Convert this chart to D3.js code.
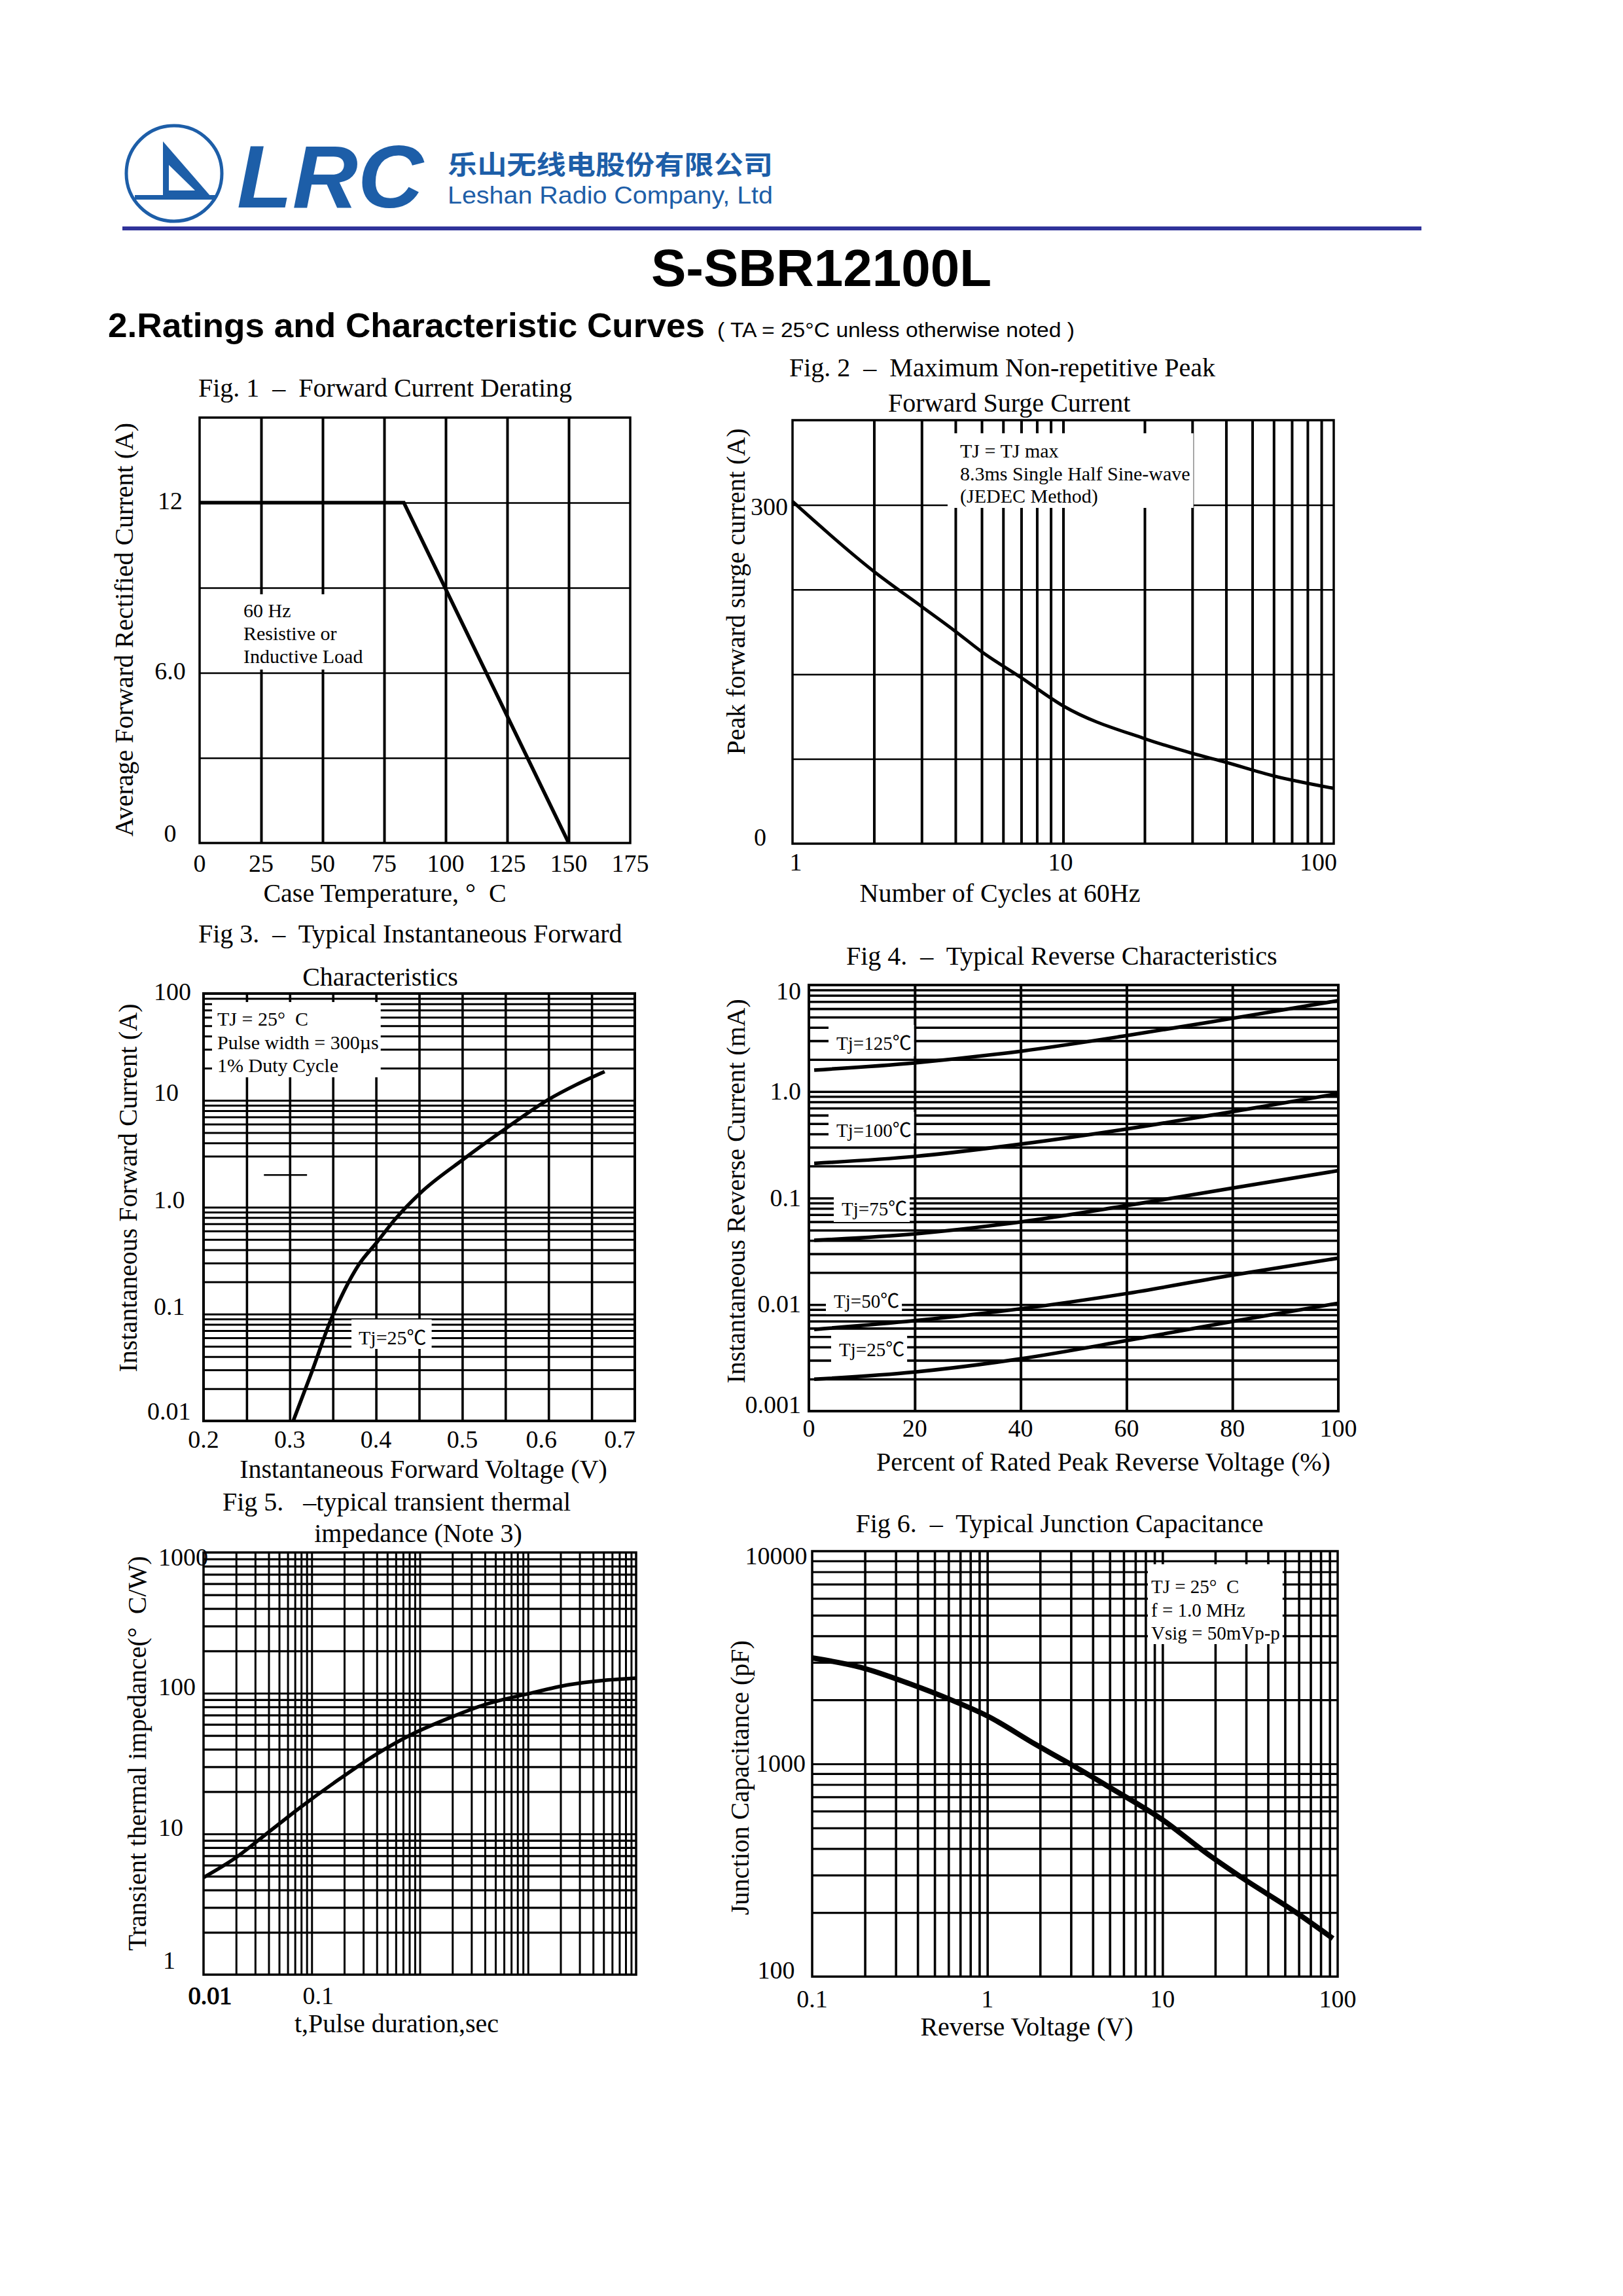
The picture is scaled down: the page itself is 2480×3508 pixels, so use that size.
<!DOCTYPE html>
<html>
<head>
<meta charset="utf-8">
<script src="https://cdn.jsdelivr.net/npm/d3@7"></script>
<style>
  html, body { margin: 0; padding: 0; background: #fff; }
  svg text { white-space: pre; }
</style>
</head>
<body>
<svg id="page" width="2480" height="3508"></svg>
<script>
'use strict';

// ---- data ----

// Fig 1 forward current derating
var fig1Temp = [0, 83, 150];
var fig1Current = [12, 12, 0];
var fig1XTicks = [0, 25, 50, 75, 100, 125, 150, 175];
var fig1YTicks = [0, 6, 12];
var fig1YLabels = ['0', '6.0', '12'];

// Fig 2 peak forward surge current
var fig2Cycles = [1, 2, 3, 4, 5, 7, 10, 20, 30, 40, 60, 100];
var fig2Surge = [303, 241, 210, 188, 170, 147, 122, 93, 80, 72, 60, 49];
var fig2XTicks = [1, 10, 100];
var fig2YTicks = [0, 300];

// Fig 3 forward characteristics
var fig3Volt = [0.304, 0.325, 0.348, 0.363, 0.380, 0.401, 0.422, 0.451, 0.501, 0.551, 0.600, 0.632, 0.665];
var fig3Amp = [0.01, 0.028, 0.09, 0.165, 0.29, 0.47, 0.77, 1.35, 2.8, 5.5, 10.2, 14, 18.6];
var fig3XTicks = [0.2, 0.3, 0.4, 0.5, 0.6, 0.7];
var fig3YTicks = [0.01, 0.1, 1, 10, 100];
var fig3YLabels = ['0.01', '0.1', '1.0', '10', '100'];

// Fig 4 reverse characteristics
var fig4Percent = [1, 20, 40, 60, 80, 100];
var fig4Tj125 = [1.59, 1.86, 2.39, 3.35, 4.87, 7.14];
var fig4Tj100 = [0.212, 0.246, 0.321, 0.445, 0.648, 0.957];
var fig4Tj75 = [0.0401, 0.0461, 0.0597, 0.0849, 0.124, 0.181];
var fig4Tj50 = [0.00585, 0.00706, 0.00914, 0.0127, 0.0189, 0.0273];
var fig4Tj25 = [0.00199, 0.00233, 0.0031, 0.00459, 0.00695, 0.0103];
var fig4Names = ['Tj=125℃', 'Tj=100℃', 'Tj=75℃', 'Tj=50℃', 'Tj=25℃'];
var fig4XTicks = [0, 20, 40, 60, 80, 100];
var fig4YTicks = [0.001, 0.01, 0.1, 1, 10];
var fig4YLabels = ['0.001', '0.01', '0.1', '1.0', '10'];

// Fig 5 transient thermal impedance
var fig5Time = [0.01, 0.02, 0.04, 0.08, 0.18, 0.4, 0.8, 1.9, 4, 10, 24, 48, 100];
var fig5Imp = [4.9, 6.8, 10.3, 15.6, 24.5, 37, 50, 67, 83, 99, 115, 123, 128];
var fig5XTicks = [0.01, 0.1];
var fig5XLabels = ['0.01', '0.1'];
var fig5YTicks = [1, 10, 100, 1000];

// Fig 6 junction capacitance
var fig6Volt = [0.1, 0.19, 0.36, 0.62, 1, 1.9, 2.9, 5, 10, 18, 28, 58, 94];
var fig6Cap = [3150, 2840, 2380, 2000, 1680, 1230, 1010, 775, 546, 378, 294, 200, 151];
var fig6XTicks = [0.1, 1, 10, 100];
var fig6XLabels = ['0.1', '1', '10', '100'];
var fig6YTicks = [100, 1000, 10000];

// ---- drawing ----

var SERIF = "'Liberation Serif','Times New Roman','Noto Sans CJK SC',serif";
var SANS = "'Liberation Sans',Arial,sans-serif";
var CJK = "'Noto Sans CJK SC','Noto Sans CJK JP',sans-serif";
var BLUE = '#1d5ea8';

var svg = d3.select('#page');
svg.append('rect').attr('width', 2480).attr('height', 3508).attr('fill', '#fff');

// 1..9 x 10^n steps strictly inside the domain
function logSteps(lo, hi) {
  var out = [];
  for (var e = Math.floor(Math.log10(lo)); Math.pow(10, e) <= hi; e++) {
    for (var k = 1; k <= 9; k++) {
      var v = +(k * Math.pow(10, e)).toPrecision(6);
      if (v > lo * 1.0001 && v < hi * 0.9999) out.push(v);
    }
  }
  return out;
}

function styleGrid(sel, width) {
  sel.select('.domain').remove();
  sel.selectAll('.tick line').attr('stroke', '#000').attr('stroke-width', width);
}

function makePanel(b, x, y, xGrid, yGrid, w) {
  var g = svg.append('g');
  var p = { b: b, x: x, y: y };
  p.grid = g.append('g');
  p.boxes = g.append('g');
  p.marks = g.append('g');
  p.frame = g.append('g');
  p.text = g.append('g').attr('font-family', SERIF).attr('fill', '#000');

  p.grid.append('g')
    .attr('transform', 'translate(0,' + b.bottom + ')')
    .call(d3.axisBottom(x).tickValues(xGrid).tickSize(-(b.bottom - b.top)).tickFormat(''))
    .call(styleGrid, w.v);
  p.grid.append('g')
    .attr('transform', 'translate(' + b.left + ',0)')
    .call(d3.axisLeft(y).tickValues(yGrid).tickSize(-(b.right - b.left)).tickFormat(''))
    .call(styleGrid, w.h);

  p.frame.append('rect')
    .attr('x', b.left).attr('y', b.top)
    .attr('width', b.right - b.left).attr('height', b.bottom - b.top)
    .attr('fill', 'none').attr('stroke', '#000').attr('stroke-width', w.f);
  return p;
}

function label(p, x, y, s, o) {
  o = o || {};
  var size = o.size || 38;
  var t = p.text.append('text')
    .attr('x', x).attr('y', y)
    .attr('font-size', size)
    .attr('text-anchor', o.anchor || 'middle')
    .text(s);
  if (o.rotate) {
    // x,y given as the visual centre of the rotated title
    t.attr('x', x + size * 0.33).attr('transform', 'rotate(-90,' + (x + size * 0.33) + ',' + y + ')');
  }
  return t;
}

// text block with a white box that hides the grid behind it
function note(p, x, y0, lines, lh, size, pad) {
  var t = p.text.append('text').attr('font-size', size);
  lines.forEach(function (s, i) {
    t.append('tspan').attr('x', x).attr('y', y0 + i * lh).text(s);
  });
  var bb = t.node().getBBox();
  p.boxes.append('rect')
    .attr('x', bb.x - pad[0]).attr('y', bb.y - pad[1])
    .attr('width', bb.width + pad[0] + pad[2])
    .attr('height', bb.height + pad[1] + pad[3])
    .attr('fill', '#fff');
}

function curve(p, xs, ys, width) {
  p.marks.append('path')
    .datum(d3.zip(xs, ys))
    .attr('d', d3.line()
      .x(function (d) { return p.x(d[0]); })
      .y(function (d) { return p.y(d[1]); })
      .curve(d3.curveMonotoneX))
    .attr('fill', 'none')
    .attr('stroke', '#000')
    .attr('stroke-width', width)
    .attr('stroke-linejoin', 'round');
}

function yBase(y, b, off, topOff, botOff) {
  return Math.min(Math.max(y + off, b.top + topOff), b.bottom + (botOff === undefined ? 3 : botOff));
}

// ---- header ----
var head = svg.append('g');
head.append('circle').attr('cx', 266).attr('cy', 265).attr('r', 73)
  .attr('fill', 'none').attr('stroke', BLUE).attr('stroke-width', 5);
head.append('path').attr('d', 'M249,216 L249,300 L322,300 Z').attr('fill', BLUE);
head.append('path').attr('d', 'M258,252 L258,291 L298,291 Z').attr('fill', '#fff');
head.append('rect').attr('x', 206).attr('y', 298).attr('width', 124).attr('height', 7).attr('fill', BLUE);
head.append('text').attr('x', 362).attr('y', 317)
  .attr('font-family', SANS).attr('font-weight', 'bold').attr('font-style', 'italic')
  .attr('font-size', 136).attr('textLength', 285).attr('lengthAdjust', 'spacingAndGlyphs')
  .attr('fill', BLUE).text('LRC');
head.append('text').attr('x', 684).attr('y', 266)
  .attr('font-family', CJK).attr('font-weight', 'bold').attr('font-size', 40)
  .attr('textLength', 497).attr('lengthAdjust', 'spacingAndGlyphs')
  .attr('fill', BLUE).text('乐山无线电股份有限公司');
head.append('text').attr('x', 684).attr('y', 311)
  .attr('font-family', SANS).attr('font-size', 36)
  .attr('textLength', 497).attr('lengthAdjust', 'spacingAndGlyphs')
  .attr('fill', BLUE).text('Leshan Radio Company, Ltd');
head.append('rect').attr('x', 187).attr('y', 346).attr('width', 1985).attr('height', 6).attr('fill', '#30339a');

head.append('text').attr('x', 1255).attr('y', 437)
  .attr('font-family', SANS).attr('font-weight', 'bold').attr('font-size', 80)
  .attr('text-anchor', 'middle').text('S-SBR12100L');
head.append('text').attr('x', 165).attr('y', 515)
  .attr('font-family', SANS).attr('font-weight', 'bold').attr('font-size', 52)
  .attr('textLength', 912).attr('lengthAdjust', 'spacingAndGlyphs')
  .text('2.Ratings and Characteristic Curves');
head.append('text').attr('x', 1096).attr('y', 515)
  .attr('font-family', SANS).attr('font-size', 31)
  .attr('textLength', 546).attr('lengthAdjust', 'spacingAndGlyphs')
  .text('( TA = 25°C unless otherwise noted )');

// ---- Fig 1 ----
var f1 = { left: 305, right: 963, top: 638, bottom: 1288 };
var x1 = d3.scaleLinear().domain([0, 175]).range([f1.left, f1.right]);
var y1 = d3.scaleLinear().domain([0, 15]).range([f1.bottom, f1.top]);
var p1 = makePanel(f1, x1, y1, d3.range(25, 175, 25), d3.range(3, 15, 3), { v: 4, h: 2.5, f: 3.5 });
p1.marks.append('path')
  .datum(d3.zip(fig1Temp, fig1Current))
  .attr('d', d3.line().x(function (d) { return x1(d[0]); }).y(function (d) { return y1(d[1]); }))
  .attr('fill', 'none').attr('stroke', '#000').attr('stroke-width', 5.5);
label(p1, 303, 606, 'Fig. 1  –  Forward Current Derating', { size: 40, anchor: 'start' });
fig1YTicks.forEach(function (v, i) {
  label(p1, 260, yBase(y1(v), f1, 10, 0, -2), fig1YLabels[i]);
});
fig1XTicks.forEach(function (v) { label(p1, x1(v), 1332, String(v)); });
label(p1, 588, 1378, 'Case Temperature, °  C', { size: 40 });
label(p1, 190, 962, 'Average Forward Rectified Current (A)', { size: 40, rotate: true });
note(p1, 372, 943, ['60 Hz', 'Resistive or', 'Inductive Load'], 35, 30, [7, 8, 4, 4]);

// ---- Fig 2 ----
var f2 = { left: 1211, right: 2038, top: 642, bottom: 1289 };
var x2 = d3.scaleLog().domain([1, 100]).range([f2.left, f2.right]);
var y2 = d3.scaleLinear().domain([0, 375]).range([f2.bottom, f2.top]);
var p2 = makePanel(f2, x2, y2, logSteps(1, 100), [75, 150, 225, 300], { v: 4, h: 2.5, f: 3.5 });
curve(p2, fig2Cycles, fig2Surge, 5);
label(p2, 1206, 575, 'Fig. 2  –  Maximum Non-repetitive Peak', { size: 40, anchor: 'start' });
label(p2, 1357, 629, 'Forward Surge Current', { size: 40, anchor: 'start' });
fig2YTicks.forEach(function (v) {
  label(p2, v === 0 ? f2.left - 40 : f2.left - 7, yBase(y2(v), f2, 16, 0), String(v), { anchor: 'end' });
});
fig2XTicks.forEach(function (v, i) {
  var last = i === fig2XTicks.length - 1;
  label(p2, last ? f2.right + 5 : x2(v) + (i === 0 ? 5 : -4), 1330, String(v), { anchor: last ? 'end' : 'middle' });
});
label(p2, 1528, 1378, 'Number of Cycles at 60Hz', { size: 40 });
label(p2, 1125, 904, 'Peak forward surge current (A)', { size: 40, rotate: true });
note(p2, 1467, 699, ['TJ = TJ max', '8.3ms Single Half Sine-wave', '(JEDEC Method)'], 34.5, 30, [19, 10, 5, 1]);

// ---- Fig 3 ----
var f3 = { left: 311, right: 970, top: 1518, bottom: 2171 };
var x3 = d3.scaleLinear().domain([0.2, 0.7]).range([f3.left, f3.right]);
var y3 = d3.scaleLog().domain([0.01, 100]).range([f3.bottom, f3.top]);
var f3XGrid = d3.range(1, 10).map(function (i) { return 0.2 + i * 0.05; });
var f3YGrid = logSteps(0.01, 100).filter(function (v) { return v !== 2; });
var p3 = makePanel(f3, x3, y3, f3XGrid, f3YGrid, { v: 3.6, h: 3, f: 4 });
// the 2 A line is only drawn as a stub in the original
p3.grid.append('line')
  .attr('x1', x3(0.27)).attr('x2', x3(0.32)).attr('y1', y3(2)).attr('y2', y3(2))
  .attr('stroke', '#000').attr('stroke-width', 2.5);
curve(p3, fig3Volt, fig3Amp, 5.5);
label(p3, 303, 1440, 'Fig 3.  –  Typical Instantaneous Forward', { size: 40, anchor: 'start' });
label(p3, 581, 1506, 'Characteristics', { size: 40 });
fig3YTicks.forEach(function (v, i) {
  label(p3, i === 0 ? 225 : 235, yBase(y3(v), f3, 1, 10, -2), fig3YLabels[i], { anchor: 'start' });
});
var f3Nudge = { 0.6: -11, 0.7: -23 };
fig3XTicks.forEach(function (v) {
  label(p3, x3(v) + (f3Nudge[v] || 0), 2212, v.toFixed(1));
});
label(p3, 647, 2258, 'Instantaneous Forward Voltage (V)', { size: 40 });
label(p3, 196, 1815, 'Instantaneous Forward Current (A)', { size: 40, rotate: true });
note(p3, 332, 1567, ['TJ = 25°  C', 'Pulse width = 300µs', '1% Duty Cycle'], 35.5, 30, [8, 9, 3, 2]);
note(p3, 548, 2054, ['Tj=25℃'], 0, 30, [11, 11, 8, 1]);

// ---- Fig 4 ----
var f4 = { left: 1236, right: 2045, top: 1505, bottom: 2156 };
var x4 = d3.scaleLinear().domain([0, 100]).range([f4.left, f4.right]);
var y4 = d3.scaleLog().domain([0.001, 10]).range([f4.bottom, f4.top]);
var p4 = makePanel(f4, x4, y4, [20, 40, 60, 80], logSteps(0.001, 10), { v: 4, h: 3.6, f: 4 });
[fig4Tj125, fig4Tj100, fig4Tj75, fig4Tj50, fig4Tj25].forEach(function (s) {
  curve(p4, fig4Percent, s, 5.5);
});
var f4LabelPos = [[1278, 1604], [1278, 1737], [1286, 1857], [1274, 1998], [1282, 2072]];
fig4Names.forEach(function (n, i) {
  note(p4, f4LabelPos[i][0], f4LabelPos[i][1], [n], 0, 29, [12, 12, 4, 4]);
});
label(p4, 1293, 1474, 'Fig 4.  –  Typical Reverse Characteristics', { size: 40, anchor: 'start' });
fig4YTicks.forEach(function (v, i) {
  label(p4, 1224, yBase(y4(v), f4, 12, 22), fig4YLabels[i], { anchor: 'end' });
});
fig4XTicks.forEach(function (v) { label(p4, x4(v), 2195, String(v)); });
label(p4, 1686, 2247, 'Percent of Rated Peak Reverse Voltage (%)', { size: 40 });
label(p4, 1125, 1820, 'Instantaneous Reverse Current (mA)', { size: 40, rotate: true });

// ---- Fig 5 ----
var f5 = { left: 311, right: 972, top: 2372, bottom: 3017 };
var x5 = d3.scaleLog().domain([0.01, 100]).range([f5.left, f5.right]);
var y5 = d3.scaleLog().domain([1, 1000]).range([f5.bottom, f5.top]);
var p5 = makePanel(f5, x5, y5, logSteps(0.01, 100), logSteps(1, 1000), { v: 3, h: 3.2, f: 3.5 });
curve(p5, fig5Time, fig5Imp, 5.5);
label(p5, 606, 2308, 'Fig 5.   –typical transient thermal', { size: 40 });
label(p5, 639, 2356, 'impedance (Note 3)', { size: 40 });
fig5YTicks.forEach(function (v) {
  label(p5, v === 1 ? 249 : 242, yBase(y5(v), f5, 3, 20, -9), String(v), { anchor: 'start' });
});
fig5XTicks.forEach(function (v, i) {
  var t = label(p5, x5(v) + 10, 3062, fig5XLabels[i]);
  if (i === 0) t.attr('stroke', '#000').attr('stroke-width', 1.2);
});
label(p5, 606, 3105, 't,Pulse duration,sec', { size: 40 });
label(p5, 210, 2679, 'Transient thermal impedance(°  C/W)', { size: 40, rotate: true });

// ---- Fig 6 ----
var f6 = { left: 1241, right: 2044, top: 2370, bottom: 3020 };
var x6 = d3.scaleLog().domain([0.1, 100]).range([f6.left, f6.right]);
var y6 = d3.scaleLog().domain([100, 10000]).range([f6.bottom, f6.top]);
var p6 = makePanel(f6, x6, y6, logSteps(0.1, 100), logSteps(100, 10000), { v: 3.6, h: 3.2, f: 3.5 });
curve(p6, fig6Volt, fig6Cap, 8);
label(p6, 1619, 2341, 'Fig 6.  –  Typical Junction Capacitance', { size: 40 });
fig6YTicks.forEach(function (v) {
  label(p6, v === 1000 ? 1193 : 1186, yBase(y6(v), f6, 12, 20), String(v));
});
fig6XTicks.forEach(function (v, i) { label(p6, x6(v), 3067, fig6XLabels[i]); });
label(p6, 1569, 3110, 'Reverse Voltage (V)', { size: 40 });
label(p6, 1131, 2716, 'Junction Capacitance (pF)', { size: 40, rotate: true });
note(p6, 1759, 2434, ['TJ = 25°  C', 'f = 1.0 MHz', 'Vsig = 50mVp-p'], 35.5, 29, [5, 18, 4, 1]);
</script>
</body>
</html>
